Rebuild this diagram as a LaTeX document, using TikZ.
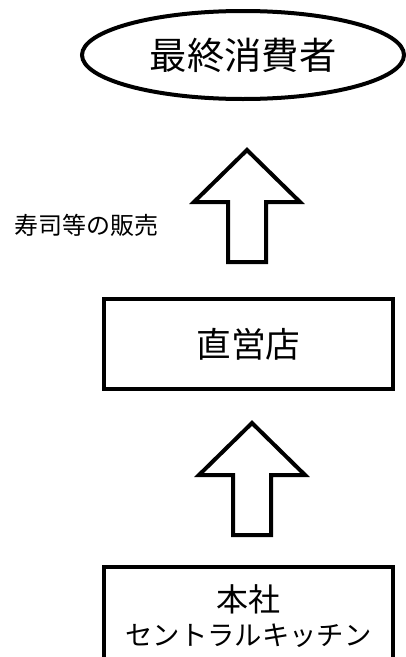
\documentclass[tikz,border=0pt]{standalone}
\usepackage{fontspec}
\usepackage{tikz}
\usetikzlibrary{shapes.geometric}
\newfontfamily\jpfont{Noto Sans CJK JP}

\tikzset{
  box/.style={draw, line width=3pt, minimum width=216.75pt, inner sep=0pt, align=center, font=\jpfont},
  oval/.style={draw, ellipse, line width=3pt, inner sep=0pt, font=\jpfont},
  bigarrow/.pic={
    \draw[line width=3pt, line join=miter] (0,0) -- (53,52) -- (19,52) -- (19,112)
      -- (-19,112) -- (-19,52) -- (-53,52) -- cycle;
  }
}

\begin{document}
\begin{tikzpicture}[x=0.75pt, y=-0.75pt]
  \useasboundingbox (0,0) rectangle (406,657);

  \node[oval, minimum width=241.5pt, minimum height=66pt] (consumer) at (243,55)
    {\fontsize{28}{28}\selectfont 最終消費者};

  \pic at (247,150) {bigarrow};
  \node[font=\jpfont] (sales) at (86,225) {\fontsize{18}{18}\selectfont 寿司等の販売};

  \node[box, minimum height=67.5pt] (shop) at (248.5,344)
    {\fontsize{26}{26}\selectfont 直営店};

  \pic at (252,423) {bigarrow};

  \node[box, anchor=north, minimum height=73.5pt,
        font=\jpfont\fontsize{20.5}{25}\selectfont] (hq) at (248.5,565)
    {{\fontsize{24}{25}\selectfont 本社}\\セントラルキッチン};
\end{tikzpicture}
\end{document}
